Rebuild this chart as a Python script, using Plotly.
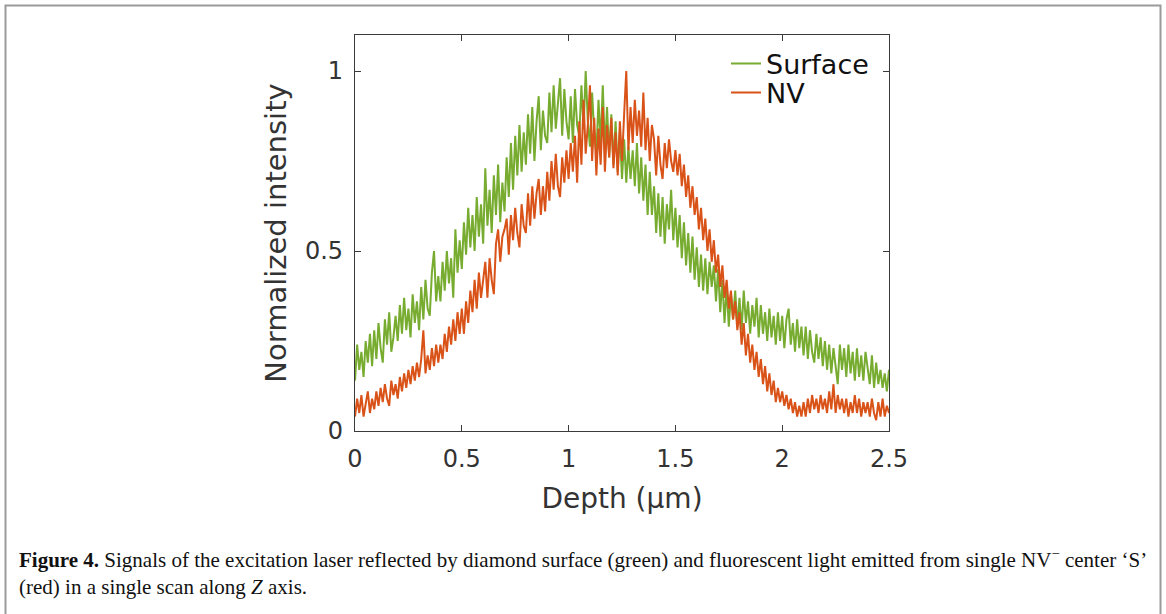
import plotly.graph_objects as go

depth = [round(i * 0.01, 2) for i in range(251)]

surface = [
    0.14, 0.24, 0.17, 0.22, 0.15, 0.25, 0.19, 0.27, 0.18, 0.28,
    0.20, 0.30, 0.23, 0.19, 0.31, 0.24, 0.33, 0.22, 0.26, 0.32,
    0.25, 0.35, 0.27, 0.37, 0.28, 0.34, 0.26, 0.38, 0.30, 0.36,
    0.28, 0.40, 0.31, 0.42, 0.34, 0.32, 0.44, 0.50, 0.36, 0.43,
    0.36, 0.47, 0.39, 0.50, 0.41, 0.48, 0.37, 0.56, 0.44, 0.53,
    0.45, 0.58, 0.49, 0.62, 0.51, 0.60, 0.50, 0.65, 0.54, 0.63,
    0.52, 0.73, 0.57, 0.67, 0.55, 0.71, 0.60, 0.74, 0.58, 0.69,
    0.61, 0.76, 0.65, 0.80, 0.67, 0.82, 0.71, 0.85, 0.72, 0.83,
    0.74, 0.88, 0.77, 0.90, 0.75, 0.86, 0.93, 0.78, 0.89, 0.82,
    0.80, 0.94, 0.83, 0.96, 0.84, 0.92, 0.98, 0.82, 0.95, 0.86,
    0.81, 0.93, 0.80, 0.95, 0.85, 0.82, 0.96, 0.84, 1.00, 0.86,
    0.79, 0.94, 0.83, 0.77, 0.92, 0.80, 0.96, 0.78, 0.90, 0.76,
    0.88, 0.74, 0.86, 0.72, 0.83, 0.70, 0.81, 0.69, 0.79, 0.70,
    0.78, 0.68, 0.80, 0.66, 0.76, 0.64, 0.74, 0.60, 0.72, 0.60,
    0.68, 0.55, 0.66, 0.54, 0.65, 0.52, 0.63, 0.56, 0.67, 0.53,
    0.62, 0.51, 0.60, 0.48, 0.58, 0.46, 0.55, 0.44, 0.54, 0.42,
    0.51, 0.40, 0.49, 0.39, 0.48, 0.38, 0.47, 0.40, 0.46, 0.36,
    0.45, 0.33, 0.42, 0.30, 0.40, 0.29, 0.38, 0.31, 0.39, 0.29,
    0.37, 0.28, 0.39, 0.30, 0.36, 0.27, 0.35, 0.29, 0.37, 0.26,
    0.35, 0.27, 0.33, 0.25, 0.34, 0.26, 0.32, 0.24, 0.33, 0.25,
    0.32, 0.23, 0.31, 0.34, 0.24, 0.30, 0.22, 0.31, 0.23, 0.29,
    0.21, 0.29, 0.20, 0.28, 0.22, 0.19, 0.27, 0.20, 0.26, 0.18,
    0.25, 0.17, 0.24, 0.16, 0.23, 0.18, 0.13, 0.24, 0.17, 0.23,
    0.15, 0.24, 0.16, 0.22, 0.14, 0.23, 0.15, 0.21, 0.14, 0.22,
    0.18, 0.13, 0.21, 0.12, 0.19, 0.13, 0.17, 0.12, 0.16, 0.11, 0.17,
]

nv = [
    0.04, 0.09, 0.05, 0.10, 0.04, 0.08, 0.11, 0.05, 0.09, 0.06,
    0.11, 0.07, 0.12, 0.08, 0.13, 0.09, 0.07, 0.14, 0.10, 0.13,
    0.09, 0.15, 0.11, 0.16, 0.12, 0.17, 0.13, 0.18, 0.14, 0.19,
    0.15, 0.20, 0.28, 0.16, 0.21, 0.17, 0.23, 0.18, 0.24, 0.19,
    0.24, 0.20, 0.27, 0.22, 0.29, 0.24, 0.31, 0.25, 0.33, 0.27,
    0.34, 0.27, 0.36, 0.30, 0.39, 0.33, 0.42, 0.34, 0.44, 0.37,
    0.43, 0.47, 0.37, 0.48, 0.42, 0.38, 0.52, 0.56, 0.47, 0.54,
    0.56, 0.59, 0.49, 0.60, 0.53, 0.62, 0.55, 0.51, 0.63, 0.57,
    0.55, 0.66, 0.57, 0.68, 0.59, 0.66, 0.70, 0.60, 0.68, 0.61,
    0.72, 0.64, 0.75, 0.67, 0.77, 0.68, 0.65, 0.76, 0.69, 0.78,
    0.70, 0.80, 0.72, 0.82, 0.69, 0.86, 0.74, 0.92, 0.77, 0.85,
    0.96, 0.75, 0.87, 0.71, 0.84, 0.74, 0.90, 0.72, 0.85, 0.76,
    0.87, 0.73, 0.83, 0.71, 0.86, 0.75, 0.88, 1.00, 0.78, 0.90,
    0.80, 0.92, 0.82, 0.89, 0.79, 0.94, 0.78, 0.87, 0.75, 0.85,
    0.81, 0.71, 0.82, 0.74, 0.70, 0.80, 0.73, 0.81, 0.75, 0.72,
    0.78, 0.71, 0.77, 0.68, 0.74, 0.65, 0.71, 0.62, 0.68, 0.60,
    0.65, 0.56, 0.62, 0.53, 0.59, 0.50, 0.56, 0.47, 0.53, 0.44,
    0.49, 0.40, 0.46, 0.37, 0.42, 0.34, 0.39, 0.31, 0.36, 0.28,
    0.33, 0.24, 0.30, 0.21, 0.27, 0.19, 0.24, 0.17, 0.22, 0.15,
    0.20, 0.13, 0.18, 0.11, 0.16, 0.10, 0.14, 0.08, 0.12, 0.08,
    0.11, 0.07, 0.10, 0.06, 0.09, 0.05, 0.08, 0.04, 0.07, 0.04,
    0.08, 0.04, 0.09, 0.05, 0.10, 0.06, 0.09, 0.05, 0.10, 0.06,
    0.09, 0.05, 0.11, 0.06, 0.13, 0.05, 0.10, 0.06, 0.09, 0.05,
    0.09, 0.04, 0.08, 0.05, 0.10, 0.05, 0.09, 0.04, 0.08, 0.05,
    0.08, 0.04, 0.09, 0.05, 0.03, 0.08, 0.04, 0.09, 0.04, 0.07, 0.05,
]

x_ticks = [0, 0.5, 1, 1.5, 2, 2.5]
x_ticklabels = ["0", "0.5", "1", "1.5", "2", "2.5"]
y_ticks = [0, 0.5, 1]
y_ticklabels = ["0", "0.5", "1"]

GREEN = "#77AC30"
ORANGE = "#D95319"
SANS = "DejaVu Sans"

L, R, T, B = 355, 277, 35, 183
W, H = 1166, 614
pw, ph = W - L - R, H - T - B


def px(xp):
    return (xp - L) / pw


def py(yp):
    return (H - B - yp) / ph


fig = go.Figure()
fig.add_trace(go.Scatter(x=depth, y=surface, mode="lines", name="Surface",
                         line=dict(color=GREEN, width=2), legend="legend"))
fig.add_trace(go.Scatter(x=depth, y=nv, mode="lines", name="NV",
                         line=dict(color=ORANGE, width=2), legend="legend2"))

axis_common = dict(showline=True, linecolor="#3a3a3a", linewidth=1.2, mirror="ticks",
                   ticks="inside", ticklen=6, tickcolor="#3a3a3a", tickwidth=1.2,
                   showgrid=False, zeroline=False,
                   tickfont=dict(family=SANS, size=24, color="#333333"))

fig.update_xaxes(range=[0, 2.5], tickvals=x_ticks, ticktext=x_ticklabels,
                 ticklabelstandoff=6,
                 title=dict(text="Depth (µm)", font=dict(family=SANS, size=28, color="#333333"),
                            standoff=16),
                 **axis_common)
fig.update_yaxes(range=[0, 1.1], tickvals=y_ticks, ticktext=y_ticklabels,
                 ticklabelstandoff=6,
                 title=dict(text="Normalized intensity", font=dict(family=SANS, size=29, color="#333333"),
                            standoff=9),
                 **axis_common)

legend_common = dict(xanchor="left", yanchor="middle", bgcolor="rgba(0,0,0,0)", borderwidth=0,
                     font=dict(family=SANS, size=27, color="#111111"), itemwidth=30)

fig.update_layout(
    width=W, height=H,
    margin=dict(l=L, r=R, t=T, b=B),
    paper_bgcolor="white", plot_bgcolor="white",
    showlegend=True,
    legend=dict(x=px(726), y=py(64), **legend_common),
    legend2=dict(x=px(726), y=py(93), **legend_common),
    shapes=[dict(type="rect", xref="paper", yref="paper",
                 x0=px(5.5), x1=px(1160.5), y0=py(640), y1=py(5.5),
                 line=dict(color="#9a9a9a", width=2), fillcolor="rgba(0,0,0,0)",
                 layer="below")],
    annotations=[dict(
        xref="paper", yref="paper", x=px(17), y=py(543), xanchor="left", yanchor="top",
        align="left", showarrow=False,
        text=("<b>Figure 4.</b> Signals of the excitation laser reflected by diamond surface (green) "
              "and fluorescent light emitted from single NV<sup>−</sup> center ‘S’<br>"
              "(red) in a single scan along <i>Z</i> axis."),
        font=dict(family="Liberation Serif", size=21, color="#111111"))],
)

fig.write_html("out.html")
